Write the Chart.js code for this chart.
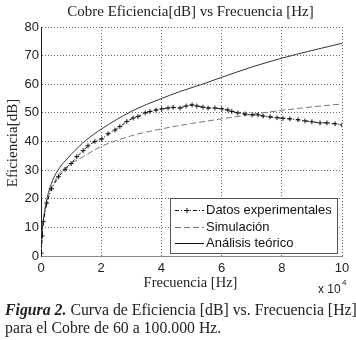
<!DOCTYPE html>
<html>
<head>
<meta charset="utf-8">
<script src="https://cdn.jsdelivr.net/npm/chart.js@4.4.1/dist/chart.umd.min.js"></script>
<style>
  html, body { margin: 0; padding: 0; background: #fff; }
  #wrap { position: relative; width: 356px; height: 340px; overflow: hidden; }
  #c { position: absolute; left: 0; top: 0; }
  .cap { position: absolute; left: 5px; font-family: 'Liberation Serif', serif; font-size: 15.8px; line-height: 18px; color: #222; white-space: nowrap; }
  .cap b { font-style: italic; }
</style>
</head>
<body>
<div id="wrap">
  <canvas id="c" width="356" height="340"></canvas>
  <div class="cap" style="top:301px"><b>Figura 2.</b> Curva de Eficiencia [dB] vs. Frecuencia [Hz]</div>
  <div class="cap" style="top:319px">para el Cobre de 60 a 100.000 Hz.</div>
</div>
<script>
// ---- data (frequency in Hz, efficiency in dB) ----
const expFreq = [60,400,800,1900,3500,5800,8000,10000,11900,14000,15600,17900,20200,22300,24600,26200,28500,30600,32200,34600,36200,38200,40100,42200,43900,46200,48200,50200,51800,53800,55500,57800,60100,62100,63400,65400,67800,70100,72100,73800,76100,78400,80400,82700,85400,87700,90000,92700,95000,97700,100000];
const expVals = [1,7,12,18.5,23.5,27.7,30.3,32.3,34.7,36.8,38.5,40,40.9,42.7,44,45.2,47,48.2,48.7,50,50.5,51,51.4,51.7,51.9,51.7,52.4,52.8,52.4,52,51.7,51.7,51.4,51,50.5,50,49.6,49.3,49.3,48.9,48.6,48.3,48.1,47.9,47.6,47.2,46.9,46.5,46.5,46.2,45.8];

const simFreq = [60,500,2000,5000,9000,14000,20000,25000,30000,35000,40000,45000,50000,55000,60000,65000,70000,75000,80000,85000,90000,95000,100000];
const simVals = [1,9,19,27,31.5,34.7,38.3,40.3,42,43.3,44.4,45.4,46.3,47.1,47.9,48.7,49.5,50.2,50.9,51.5,52.1,52.6,53.1];

const teoFreq = [60,200,600,1900,3500,6300,9000,10000,15000,20000,25000,30000,35000,40000,46000,53000,60000,70000,80000,90000,100000];
const teoVals = [1,6,11,19.6,25.5,31,34.3,35.5,40.5,44.3,47.6,50.5,52.9,55,57.4,59.8,62.4,66,69.1,71.8,74.3];

const xTicks = [0,20000,40000,60000,80000,100000];
const yTicks = [0,10,20,30,40,50,60,70,80];

const seriesNames = ['Datos experimentales','Simulación','Análisis teórico'];
const titleText = 'Cobre Eficiencia[dB] vs Frecuencia [Hz]';
const xTitle = 'Frecuencia [Hz]';
const yTitle = 'Eficiencia[dB]';

const pts = (xs, ys) => xs.map((x, i) => ({x: x, y: ys[i]}));

const SERIF = "'Liberation Serif', serif";
const SANS = "'Liberation Sans', Arial, sans-serif";

const styles = [
  {color: '#111', dash: [4,2,1,2], width: 1, marker: true},
  {color: '#777', dash: [6,3], width: 1, marker: false},
  {color: '#333', dash: [], width: 1, marker: false}
];

const textPlugin = {
  id: 'texts',
  afterDraw(chart) {
    const ctx = chart.ctx;
    const a = chart.chartArea;
    ctx.save();
    ctx.fillStyle = '#222';
    ctx.textAlign = 'center';
    ctx.textBaseline = 'middle';
    ctx.font = '15px ' + SERIF;
    ctx.fillText(titleText, (a.left + a.right) / 2 - 1, 12.5);
    ctx.font = '14.5px ' + SERIF;
    ctx.fillText(xTitle, (a.left + a.right) / 2 - 1, 283);
    ctx.save();
    ctx.translate(13, 143);
    ctx.rotate(-Math.PI / 2);
    ctx.font = '15px ' + SERIF;
    ctx.fillText(yTitle, 0, 0);
    ctx.restore();
    // x 10^4
    ctx.textAlign = 'left';
    ctx.font = '12px ' + SANS;
    ctx.fillText('x 10', 318, 290);
    ctx.font = '8px ' + SANS;
    ctx.fillText('4', 342, 283);
    ctx.restore();
  },
  afterDatasetsDraw(chart) {
    const ctx = chart.ctx;
    // legend box
    const L = 170.5, T = 198.5, R = 337.5, B = 253.5;
    ctx.save();
    ctx.fillStyle = '#fff';
    ctx.fillRect(L, T, R - L, B - T);
    ctx.strokeStyle = '#555';
    ctx.lineWidth = 1;
    ctx.strokeRect(L, T, R - L, B - T);
    const rows = [210, 226.5, 243];
    ctx.font = '13px ' + SANS;
    ctx.textBaseline = 'middle';
    ctx.textAlign = 'left';
    seriesNames.forEach((name, i) => {
      const st = styles[i];
      const y = Math.round(rows[i]) + 0.5;
      ctx.strokeStyle = i === 2 ? '#111' : st.color;
      ctx.lineWidth = 1;
      ctx.setLineDash(st.dash);
      ctx.beginPath();
      ctx.moveTo(175, y);
      ctx.lineTo(204, y);
      ctx.stroke();
      ctx.setLineDash([]);
      if (st.marker) {
        ctx.beginPath();
        ctx.moveTo(187, y - 2.5); ctx.lineTo(187, y + 2.5);
        ctx.moveTo(184.5, y); ctx.lineTo(189.5, y);
        ctx.stroke();
      }
      ctx.fillStyle = '#111';
      ctx.fillText(name, 206, rows[i] + 0.5);
    });
    ctx.restore();
  }
};

new Chart(document.getElementById('c'), {
  type: 'line',
  data: {
    datasets: [
      {label: seriesNames[0], data: pts(expFreq, expVals), borderColor: styles[0].color, borderWidth: 1, borderDash: styles[0].dash,
       pointStyle: 'cross', pointRadius: 2.4, pointBorderWidth: 1, pointBorderColor: '#111', pointBackgroundColor: '#111', tension: 0},
      {label: seriesNames[1], data: pts(simFreq, simVals), borderColor: styles[1].color, borderWidth: 1, borderDash: styles[1].dash,
       pointRadius: 0, cubicInterpolationMode: 'monotone'},
      {label: seriesNames[2], data: pts(teoFreq, teoVals), borderColor: styles[2].color, borderWidth: 1,
       pointRadius: 0, cubicInterpolationMode: 'monotone'}
    ]
  },
  options: {
    responsive: false,
    animation: false,
    devicePixelRatio: 1,
    layout: {padding: {left: 0, top: 27, right: 14, bottom: 0}},
    plugins: {legend: {display: false}, title: {display: false}, tooltip: {enabled: false}},
    scales: {
      x: {
        type: 'linear', min: 0, max: 100000,
        afterFit(s) { s.height = 84; },
        afterBuildTicks(s) { s.ticks = xTicks.map(v => ({value: v})); },
        ticks: {padding: 5, color: '#222', font: {family: SANS, size: 13}, maxRotation: 0,
                callback: v => String(v / 10000)},
        grid: {color: '#666', lineWidth: 1, drawTicks: false},
        border: {display: true, color: '#888', width: 1, dash: [1, 2]}
      },
      y: {
        type: 'linear', min: 0, max: 80,
        afterFit(s) { s.width = 41; },
        afterBuildTicks(s) { s.ticks = yTicks.map(v => ({value: v})); },
        ticks: {padding: 2, color: '#222', font: {family: SANS, size: 13}},
        grid: {color: '#666', lineWidth: 1, drawTicks: false},
        border: {display: true, color: '#222', width: 1, dash: [1, 2]}
      }
    }
  },
  plugins: [textPlugin]
});
</script>
</body>
</html>
